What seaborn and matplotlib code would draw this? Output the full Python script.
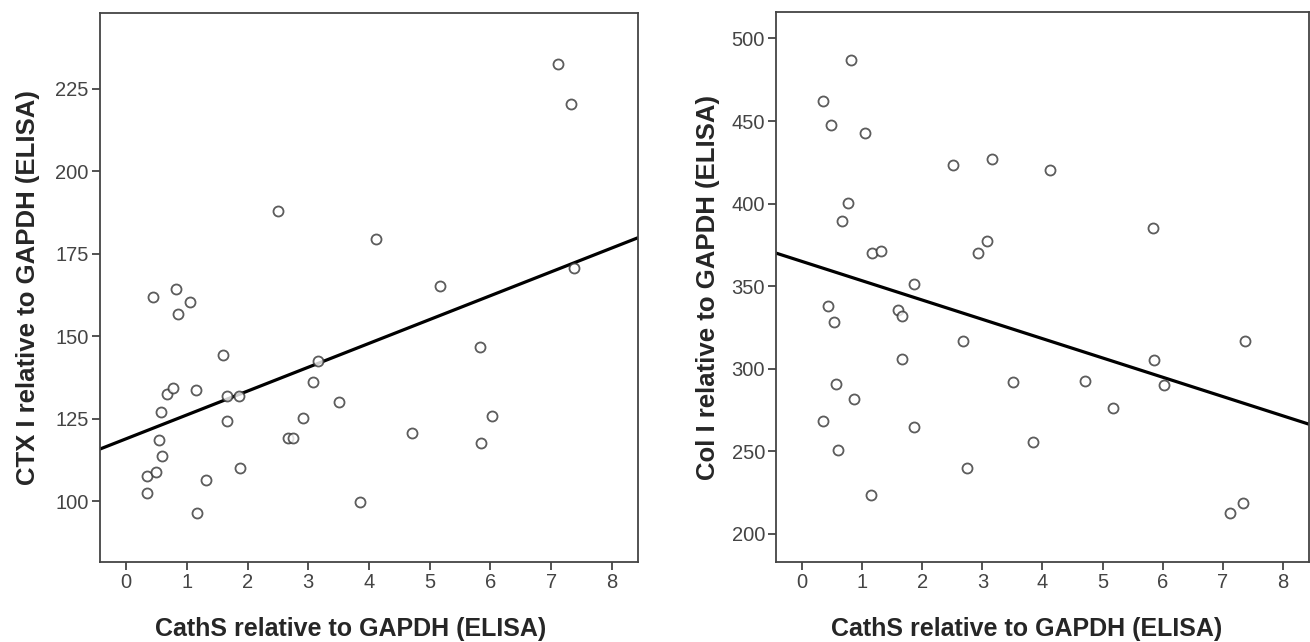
import numpy as np
import pandas as pd
import seaborn as sns
import matplotlib.pyplot as plt

# CathS relative to GAPDH (shared x for both panels)
cath_s = [0.35, 0.35, 0.44, 0.49, 0.54, 0.57, 0.60, 0.67, 0.77, 0.82, 0.86, 1.05,
          1.15, 1.16, 1.31, 1.59, 1.66, 1.66, 1.86, 1.87, 2.51, 2.67, 2.75, 2.92,
          3.08, 3.16, 3.51, 3.85, 4.12, 4.71, 5.17, 5.83, 5.85, 6.02, 7.12, 7.33, 7.37]

# CTX I relative to GAPDH
ctx_i = [107.6, 102.6, 161.8, 108.9, 118.6, 127.2, 113.6, 132.4, 134.4, 164.2, 156.9, 160.3,
         133.8, 96.5, 106.5, 144.3, 132.0, 124.4, 131.9, 110.0, 188.0, 119.3, 119.1, 125.2,
         136.1, 142.5, 130.1, 99.7, 179.6, 120.7, 165.3, 146.7, 117.7, 125.9, 232.7, 220.5, 170.6]

# Col I relative to GAPDH
col_i = [462.1, 268.6, 338.0, 447.6, 328.1, 291.0, 250.8, 389.5, 400.2, 486.7, 281.5, 442.7,
         223.6, 370.1, 371.5, 335.4, 305.9, 331.8, 264.8, 351.5, 423.4, 317.0, 240.1, 370.1,
         377.5, 427.0, 292.2, 255.5, 420.3, 292.8, 276.5, 385.4, 305.1, 290.2, 212.5, 218.9, 317.0]

ctx_ticks = [100, 125, 150, 175, 200, 225]
col_ticks = [200, 250, 300, 350, 400, 450, 500]
x_ticks = list(range(0, 9))

df = pd.DataFrame({'cath': cath_s, 'ctx': ctx_i, 'col': col_i})

sns.set_style('white')
plt.rcParams['font.family'] = ['Liberation Sans', 'DejaVu Sans']

fig = plt.figure(figsize=(13.1, 6.42), dpi=100)
ax1 = fig.add_axes([0.0763, 0.1246, 0.4107, 0.8551])
ax2 = fig.add_axes([0.5924, 0.1246, 0.4068, 0.8566])

edge = '#444444'
panels = [
    (ax1, 'ctx', 'CTX I relative to GAPDH (ELISA)', ctx_ticks, (81.6, 248.0), 11, 0.465),
    (ax2, 'col', 'Col I relative to GAPDH (ELISA)', col_ticks, (183.0, 516.0), 8, 0.471),
]

for ax, col, ylabel, yt, ylim, ypad, xlab_x in panels:
    ax.set_xlim(-0.43, 8.43)
    ax.set_ylim(*ylim)
    sns.regplot(data=df, x='cath', y=col, ax=ax, ci=None, truncate=False,
                scatter_kws=dict(s=52, facecolors='white', edgecolors='#333333',
                                 linewidths=1.3, zorder=3),
                line_kws=dict(color='black', lw=2.3, zorder=2))
    ax.set_xlim(-0.43, 8.43)
    ax.set_ylim(*ylim)
    ax.set_xticks(x_ticks)
    ax.set_yticks(yt)
    ax.set_xlabel('CathS relative to GAPDH (ELISA)', fontsize=18, fontweight='bold',
                  labelpad=18)
    ax.xaxis.label.set_x(xlab_x)
    ax.set_ylabel(ylabel, fontsize=18.5, fontweight='bold', labelpad=ypad)
    ax.tick_params(axis='both', direction='out', length=6, width=1.3, color=edge,
                   labelsize=14.5, labelcolor='#444444', pad=2, bottom=True, left=True)
    for sp in ax.spines.values():
        sp.set_color(edge)
        sp.set_linewidth(1.3)

fig.savefig('out.png', dpi=100)
